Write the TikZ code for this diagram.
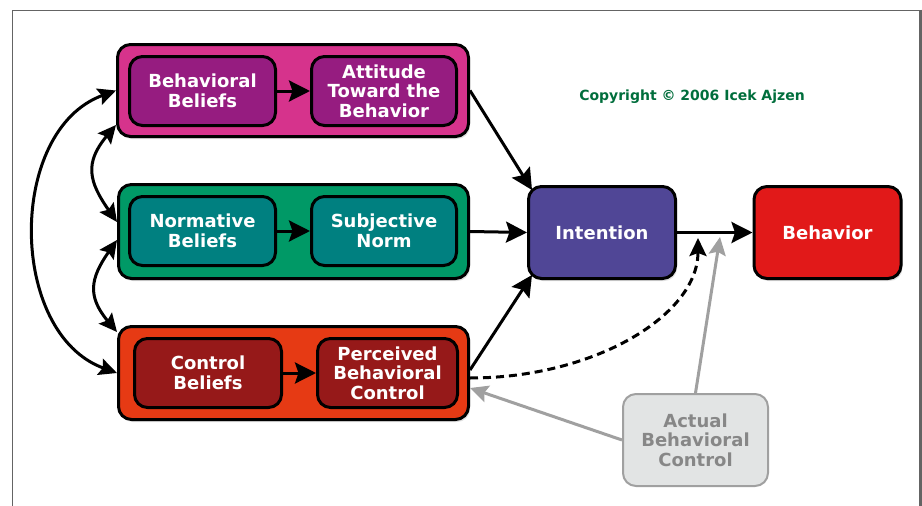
\documentclass[tikz,border=0pt]{standalone}
\usepackage{fontspec}
\setmainfont{DejaVu Sans}
\usetikzlibrary{arrows.meta,shadows}
\definecolor{magO}{RGB}{214,51,140}
\definecolor{magI}{RGB}{150,28,128}
\definecolor{grnO}{RGB}{0,153,102}
\definecolor{grnI}{RGB}{0,128,128}
\definecolor{redO}{RGB}{230,58,20}
\definecolor{redI}{RGB}{150,25,25}
\definecolor{intC}{RGB}{80,70,150}
\definecolor{behC}{RGB}{225,25,25}
\definecolor{actF}{RGB}{226,228,228}
\definecolor{actD}{RGB}{160,160,160}
\definecolor{actT}{RGB}{135,135,135}
\definecolor{cpyC}{RGB}{0,110,60}
\definecolor{frameC}{RGB}{100,100,100}
\tikzset{bigtip/.tip={Stealth[length=21pt,width=21pt,inset=3.5pt]},
         midtip/.tip={Stealth[length=18pt,width=17pt,inset=3pt]}}
\begin{document}
\begin{tikzpicture}[x=1pt,y=1pt,
  boxfont/.style={font=\bfseries\fontsize{18}{19.5}\selectfont},
  outerbox/.style={draw=black, line width=3pt, rounded corners=13pt, inner sep=0pt,
    drop shadow={shadow xshift=1.5pt, shadow yshift=-2.5pt, opacity=0.25}},
  innerbox/.style={draw=black, line width=3pt, rounded corners=13pt, inner sep=0pt,
    text=white, align=center, boxfont, minimum height=69pt},
  mainbox/.style={outerbox, text=white, boxfont,
    minimum width=147pt, minimum height=92pt},
  conn/.style={line width=3pt, -{bigtip}},
  dconn/.style={line width=3pt, {midtip}-{midtip}},
  grayconn/.style={line width=3pt, draw=actD, -{midtip}}
]
\useasboundingbox (0,0) rectangle (922,-506);
\fill[white] (0,0) rectangle (922,-506);
% frame
\draw[frameC, line width=1pt] (12,-520) -- (12,-10) -- (920,-10);
\draw[frameC, line width=2.5pt] (920.5,-9.5) -- (920.5,-520);

% outer boxes
\node[outerbox, fill=magO, minimum width=351pt, minimum height=92pt] (b1) at (293,-90.5) {};
\node[outerbox, fill=grnO, minimum width=350pt, minimum height=94pt] (b2) at (293.5,-231.5) {};
\node[outerbox, fill=redO, minimum width=350pt, minimum height=93pt] (b3) at (293.5,-373) {};

% inner boxes
\node[innerbox, fill=magI, minimum width=146pt] (bb) at (202.5,-91) {Behavioral\\Beliefs};
\node[innerbox, fill=magI, minimum width=145pt] (att) at (384,-91) {Attitude\\Toward the\\Behavior};
\node[innerbox, fill=grnI, minimum width=146pt] (nb) at (202.5,-231) {Normative\\Beliefs};
\node[innerbox, fill=grnI, minimum width=145pt] (sn) at (384,-231) {Subjective\\Norm};
\node[innerbox, fill=redI, minimum width=147pt] (cb) at (208,-373) {Control\\Beliefs};
\node[innerbox, fill=redI, minimum width=140pt] (pbc) at (387.5,-373) {Perceived\\Behavioral\\Control};

% right boxes
\node[mainbox, fill=intC] (int) at (602,-232.5) {Intention};
\node[mainbox, fill=behC] (beh) at (827.5,-232.5) {Behavior};
\node[draw=actD, fill=actF, line width=2pt, rounded corners=13pt, inner sep=0pt,
  minimum width=145pt, minimum height=92pt, text=actT, align=center,
  boxfont] (act) at (695.5,-440) {Actual\\Behavioral\\Control};

% copyright
\node[font=\bfseries\fontsize{14}{16}\selectfont, text=cpyC] (cpy) at (692,-97) {Copyright © 2006 Icek Ajzen};

% inner arrows
\draw[conn] (bb.east) -- (att.west);
\draw[conn] (nb.east) -- (sn.west);
\draw[conn] (cb.east) -- (pbc.west);

% left curved arrows
\draw[dconn] (b1.west) to[out=200, in=160, looseness=1.05] (b3.west);
\draw[dconn] ([yshift=-34.5pt]b1.west) to[out=230, in=125, looseness=1.3] ([yshift=9.5pt]b2.west);
\draw[dconn] ([yshift=-8.5pt]b2.west) to[out=235, in=130, looseness=1.3] ([yshift=41pt]b3.west);

% to intention
\draw[conn] (b1.east) -- ([shift={(5pt,-5pt)}]int.north west);
\draw[conn] (b2.east) -- (int.west);
\draw[conn] ([yshift=3pt]b3.east) -- ([shift={(5pt,5pt)}]int.south west);
\draw[conn] (int.east) -- (beh.west);

% dashed and gray arrows
\coordinate (dashend) at (698,-238);
\coordinate (grayend) at (720,-237);
\draw[line width=3pt, -{midtip}, dash pattern=on 8pt off 5pt] ([yshift=-5pt]b3.east)
  to[out=0, in=-90, out looseness=1.19, in looseness=0.74] (dashend);
\draw[grayconn] (act.north) -- (grayend);
\draw[grayconn] (act.west) -- ([yshift=-15pt]b3.east);
\end{tikzpicture}
\end{document}
